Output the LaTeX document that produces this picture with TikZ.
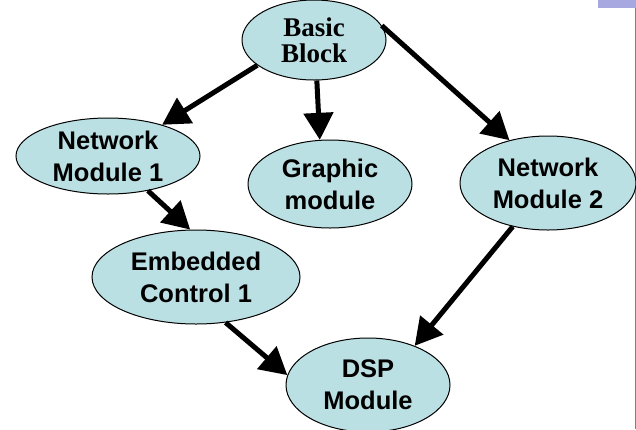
\documentclass[tikz,border=0pt]{standalone}
\usepackage{fontspec}
\setmainfont{Liberation Sans}
\newfontfamily\serifbf{Liberation Serif}
\usepackage{tikz}
\usetikzlibrary{shapes.geometric}
\usetikzlibrary{arrows.meta}
\definecolor{modfill}{HTML}{BBE0E3}
\definecolor{barblue}{HTML}{A8A8E0}

\begin{document}
\begin{tikzpicture}[x=1pt,y=-1pt,
    mod/.style={ellipse,draw,line width=1pt,fill=modfill,inner sep=0pt,align=center,
      font=\fontsize{25.5}{32}\selectfont\bfseries},
    arr/.style={line width=5pt,-{Triangle[length=27pt,width=29pt]}}]

    \useasboundingbox (0,0) rectangle (636,429);
    \fill[barblue] (598,0) rectangle (636,8);
    \draw[gray,line width=1pt] (635,8) -- (635,429);

    \node[mod,minimum width=144pt,minimum height=80pt,font=\fontsize{27}{26}\selectfont\serifbf\bfseries]
                               (bb)  at (314, 40)   {Basic\\Block};
    \node[mod,minimum width=184pt,minimum height=76pt]   (nm1) at (108, 156)  {Network\\Module 1};
    \node[mod,minimum width=164pt,minimum height=88pt]   (gr)  at (330, 184)  {Graphic\\module};
    \node[mod,minimum width=176pt,minimum height=94pt]   (nm2) at (548, 183)  {Network\\Module 2};
    \node[mod,minimum width=208pt,minimum height=94pt]   (emb) at (196, 277)  {Embedded\\Control 1};
    \node[mod,minimum width=164pt,minimum height=94pt]   (dsp) at (368, 385)  {DSP\\Module};


    \draw (bb.204)  edge[arr] (nm1.30);
    \draw (bb.274)  edge[arr] (gr.103);
    \draw (bb.12)   edge[arr] (nm2.132);
    \draw (nm1.319) edge[arr] (emb.97);
    \draw (nm2.231) edge[arr] (dsp.40);
    \draw (emb.303) edge[arr] (dsp.173);
  \end{tikzpicture}
\end{document}
